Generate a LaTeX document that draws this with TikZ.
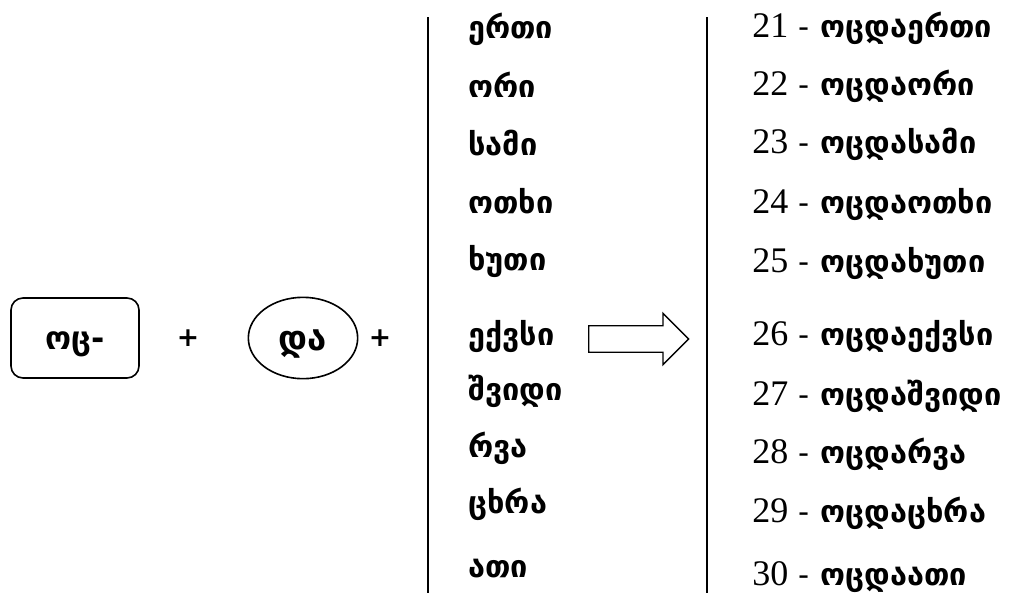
\documentclass[tikz,border=0pt]{standalone}
\usepackage{fontspec}
\setmainfont{DejaVu Sans}
\newfontfamily\digits{Liberation Serif}
\usepackage{tikz}
\usetikzlibrary{positioning,shapes,arrows}

\begin{document}
\begin{tikzpicture}[x=0.75pt,y=-0.75pt,
stembox/.style={rectangle, rounded corners=9pt, draw=black, line width=1.2pt, minimum width=96pt, minimum height=60pt, text height=17.5pt, text depth=0pt, font=\bfseries\fontsize{24}{26}\selectfont},
linkoval/.style={ellipse, draw=black, line width=1.2pt, minimum width=82pt, minimum height=61pt, text height=18.5pt, text depth=0pt, font=\bfseries\fontsize{26}{28}\selectfont},
plussign/.style={inner sep=0pt, font=\bfseries\fontsize{20}{24}\selectfont},
word/.style={anchor=base west, inner sep=0pt, font=\bfseries\fontsize{23}{26}\selectfont},
bigarrow/.style={single arrow, draw=black, line width=1pt, minimum height=75pt, minimum width=37.5pt, single arrow head extend=9.4pt, inner xsep=0pt, inner ysep=9.4pt},
]
\useasboundingbox (0,0) rectangle (1021,601);

\node[stembox] (oc) at (75,338) {ოც-};
\node[plussign] (plus_a) at (188,338) {+};
\node[linkoval] (da) at (303,338) {და};
\node[plussign] (plus_b) at (380,338) {+};

%Bars
\coordinate (bar_l_top) at (428,17);
\coordinate (bar_l_bot) at (428,593);
\coordinate (bar_r_top) at (707,17);
\coordinate (bar_r_bot) at (707,593);
\draw[line width=1.4pt] (bar_l_top) -- (bar_l_bot);
\draw[line width=1.4pt] (bar_r_top) -- (bar_r_bot);

%Units
\foreach \w/\y [count=\i] in {ერთი/38, ორი/97, სამი/155, ოთხი/213, ხუთი/270,
  ექვსი/345, შვიდი/400, რვა/457, ცხრა/513, ათი/577}
  \node[word] (unit\i) at (468,\y) {\w};

\node[bigarrow, anchor=tail] (arrow) at (588,339) {};

%Results
\foreach \n/\w/\y in {21/ერთი/37, 22/ორი/95, 23/სამი/153, 24/ოთხი/213, 25/ხუთი/272,
  26/ექვსი/345, 27/შვიდი/405, 28/რვა/463, 29/ცხრა/522, 30/ათი/585}
  \node[word] (num\n) at (752,\y) {{\digits\mdseries\fontsize{27}{28}\selectfont\n} {\mdseries -} ოცდა\w};
\end{tikzpicture}
\end{document}
